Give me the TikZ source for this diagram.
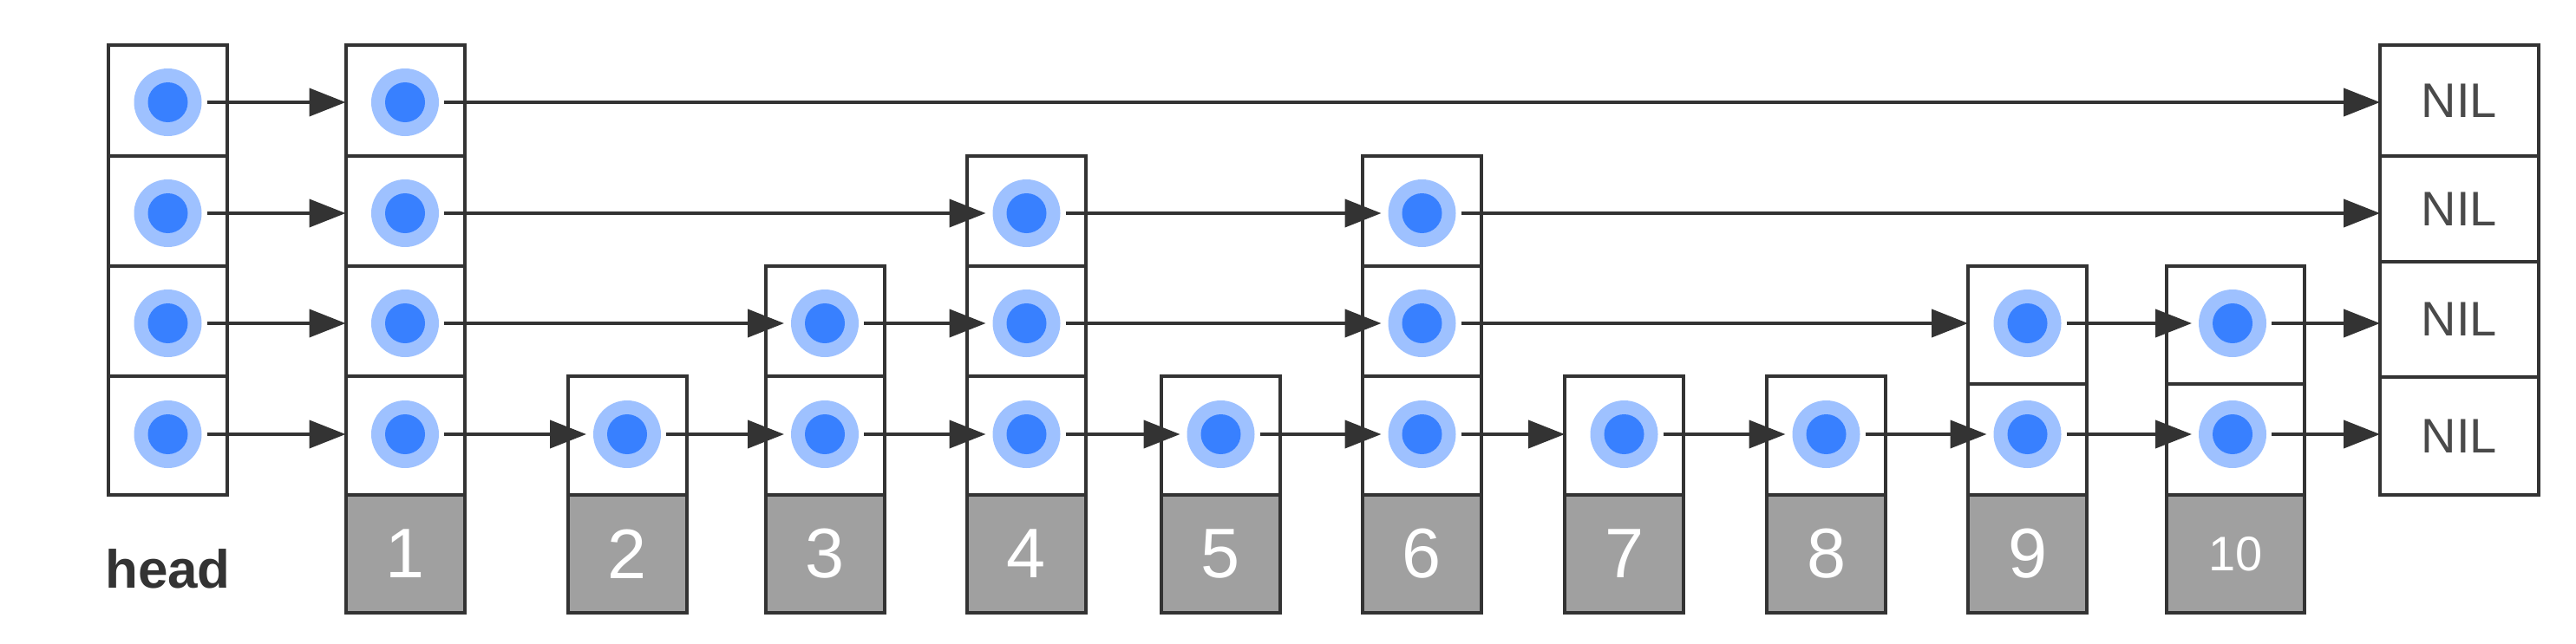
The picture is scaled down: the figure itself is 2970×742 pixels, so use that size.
\documentclass[tikz,border=0pt]{standalone}
\usepackage{fontspec}
\setmainfont{Liberation Sans}
\usetikzlibrary{arrows.meta}
\definecolor{ln}{HTML}{333333}
\definecolor{outerblue}{HTML}{9EC1FF}
\definecolor{innerblue}{HTML}{3880FF}
\definecolor{valgray}{HTML}{A0A0A0}
\definecolor{niltext}{HTML}{4A4A4A}
\begin{document}
\begin{tikzpicture}[x=1pt,y=-1pt,
  cell/.style={draw=ln, line width=4pt, fill=white, minimum width=137pt, inner sep=0pt, outer sep=0pt},
  ha/.style={cell, minimum height=128pt},
  hb/.style={cell, minimum height=127pt},
  hc/.style={cell, minimum height=127pt},
  hd/.style={cell, minimum height=137pt},
  val/.style={draw=ln, line width=4pt, fill=valgray, minimum width=137pt, minimum height=136pt,
    inner sep=0pt, outer sep=0pt, text=white, font=\fontsize{81}{81}\selectfont},
  nilcell/.style={cell, minimum width=183pt, text=niltext, font=\fontsize{56}{56}\selectfont},
  dot/.style={circle, fill=outerblue, minimum size=78pt, inner sep=0pt, outer sep=0pt,
    path picture={\fill[innerblue] (path picture bounding box.center) circle[radius=23pt];}},
  link/.style={draw=ln, line width=4pt, -{Triangle[length=42pt,width=32pt]}, shorten <=6pt},
  tocirc/.style={link, shorten >=8pt},
  tobox/.style={link}
]
\useasboundingbox (0,0) rectangle (2970,742);

% ---------- head column ----------
\node[ha] (h-1) at (193.5,116) {};
\node[hb] (h-2) at (193.5,243.5) {};
\node[hc] (h-3) at (193.5,370.5) {};
\node[hd] (h-4) at (193.5,502.5) {};
\node[anchor=base, text=ln, font=\bfseries\fontsize{62}{62}\selectfont] (headlabel) at (193.5,678) {head};

% ---------- column 1 ----------
\node[ha] (a1-1) at (467,116) {};
\node[hb] (a1-2) at (467,243.5) {};
\node[hc] (a1-3) at (467,370.5) {};
\node[hd] (a1-4) at (467,502.5) {};
\node[val] (v1) at (467,639) {1};

% ---------- column 2 ----------
\node[hd] (a2-4) at (723,502.5) {};
\node[val] (v2) at (723,639) {2};

% ---------- column 3 ----------
\node[hc] (a3-3) at (951,370.5) {};
\node[hd] (a3-4) at (951,502.5) {};
\node[val] (v3) at (951,639) {3};

% ---------- column 4 ----------
\node[hb] (a4-2) at (1183.5,243.5) {};
\node[hc] (a4-3) at (1183.5,370.5) {};
\node[hd] (a4-4) at (1183.5,502.5) {};
\node[val] (v4) at (1183.5,639) {4};

% ---------- column 5 ----------
\node[hd] (a5-4) at (1407.5,502.5) {};
\node[val] (v5) at (1407.5,639) {5};

% ---------- column 6 ----------
\node[hb] (a6-2) at (1639.5,243.5) {};
\node[hc] (a6-3) at (1639.5,370.5) {};
\node[hd] (a6-4) at (1639.5,502.5) {};
\node[val] (v6) at (1639.5,639) {6};

% ---------- column 7 ----------
\node[hd] (a7-4) at (1872.5,502.5) {};
\node[val] (v7) at (1872.5,639) {7};

% ---------- column 8 ----------
\node[hd] (a8-4) at (2105.5,502.5) {};
\node[val] (v8) at (2105.5,639) {8};

% ---------- column 9 ----------
\node[cell, minimum height=136pt] (a9-3) at (2337.5,375) {};
\node[cell, minimum height=128pt] (a9-4) at (2337.5,507) {};
\node[val] (v9) at (2337.5,639) {9};

% ---------- column 10 ----------
\node[cell, minimum width=159pt, minimum height=136pt] (a10-3) at (2577.5,375) {};
\node[cell, minimum width=159pt, minimum height=128pt] (a10-4) at (2577.5,507) {};
\node[val, minimum width=159pt, font=\fontsize{56}{56}\selectfont] (v10) at (2577.5,639) {10};

% ---------- NIL column ----------
\node[nilcell, minimum height=128pt] (n-1) at (2835.5,116) {NIL};
\node[nilcell, minimum height=122pt] (n-2) at (2835.5,241) {NIL};
\node[nilcell, minimum height=133pt] (n-3) at (2835.5,368.5) {NIL};
\node[nilcell, minimum height=136pt] (n-4) at (2835.5,503) {NIL};

% ---------- pointer dots ----------
\foreach \r/\y in {1/118,2/246,3/373,4/501}{
  \node[dot] (dh-\r) at (193.5,\y) {};
  \node[dot] (d1-\r) at (467,\y) {};
}
\node[dot] (d2-4) at (723,501) {};
\node[dot] (d3-3) at (951,373) {};
\node[dot] (d3-4) at (951,501) {};
\node[dot] (d4-2) at (1183.5,246) {};
\node[dot] (d4-3) at (1183.5,373) {};
\node[dot] (d4-4) at (1183.5,501) {};
\node[dot] (d5-4) at (1407.5,501) {};
\node[dot] (d6-2) at (1639.5,246) {};
\node[dot] (d6-3) at (1639.5,373) {};
\node[dot] (d6-4) at (1639.5,501) {};
\node[dot] (d7-4) at (1872.5,501) {};
\node[dot] (d8-4) at (2105.5,501) {};
\node[dot] (d9-3) at (2337.5,373) {};
\node[dot] (d9-4) at (2337.5,501) {};
\node[dot] (d10-3) at (2574,373) {};
\node[dot] (d10-4) at (2574,501) {};

% ---------- links: head -> column 1 ----------
\foreach \r in {1,2,3,4}{
  \draw[tobox] (dh-\r.east) -- (dh-\r.center -| a1-\r.west);
}

% ---------- level 4 (top row) ----------
\draw[tobox] (d1-1.east) -- (d1-1.center -| n-1.west);

% ---------- level 3 ----------
\draw[tocirc] (d1-2.east) -- (d4-2.west);
\draw[tocirc] (d4-2.east) -- (d6-2.west);
\draw[tobox] (d6-2.east) -- (d6-2.center -| n-2.west);

% ---------- level 2 ----------
\draw[tocirc] (d1-3.east) -- (d3-3.west);
\draw[tocirc] (d3-3.east) -- (d4-3.west);
\draw[tocirc] (d4-3.east) -- (d6-3.west);
\draw[tobox] (d6-3.east) -- (d6-3.center -| a9-3.west);
\draw[tocirc] (d9-3.east) -- (d10-3.west);
\draw[tobox] (d10-3.east) -- (d10-3.center -| n-3.west);

% ---------- level 1 ----------
\draw[tocirc] (d1-4.east) -- (d2-4.west);
\draw[tocirc] (d2-4.east) -- (d3-4.west);
\draw[tocirc] (d3-4.east) -- (d4-4.west);
\draw[tocirc] (d4-4.east) -- (d5-4.west);
\draw[tocirc] (d5-4.east) -- (d6-4.west);
\draw[tobox] (d6-4.east) -- (d6-4.center -| a7-4.west);
\draw[tocirc] (d7-4.east) -- (d8-4.west);
\draw[tocirc] (d8-4.east) -- (d9-4.west);
\draw[tocirc] (d9-4.east) -- (d10-4.west);
\draw[tobox] (d10-4.east) -- (d10-4.center -| n-4.west);
\end{tikzpicture}
\end{document}
